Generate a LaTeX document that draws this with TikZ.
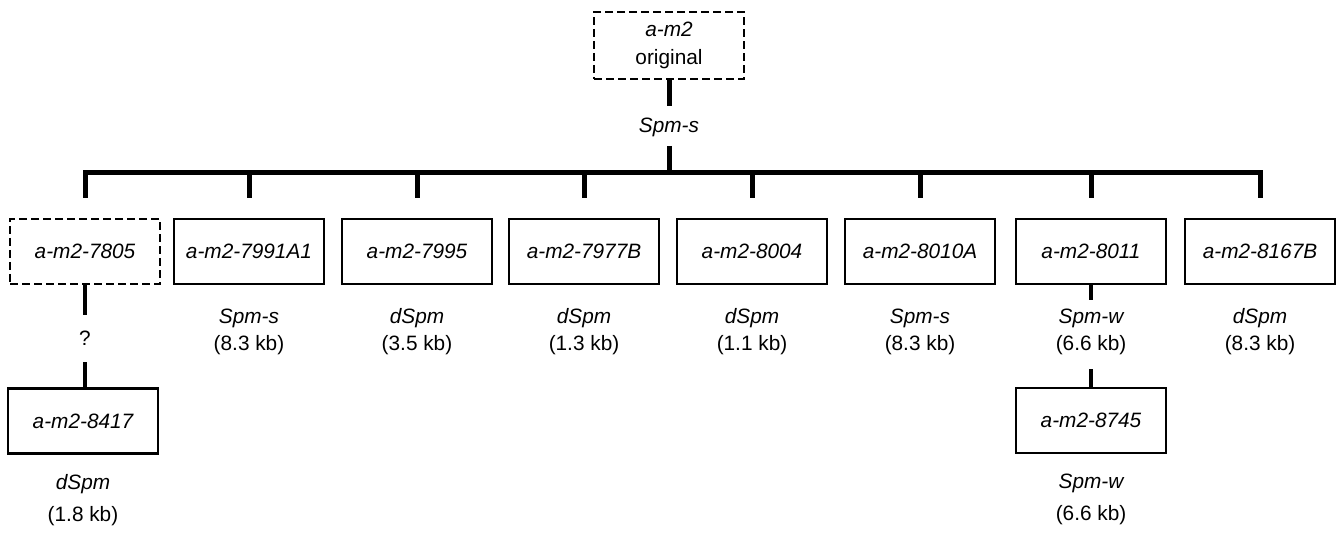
\documentclass[tikz,border=0pt]{standalone}
\usepackage{fontspec}
\setmainfont{Liberation Sans}
\begin{document}
\begin{tikzpicture}[x=1pt,y=-1pt,
  every node/.style={font=\fontsize{20.8}{28}\selectfont},
  box/.style={draw,line width=2.2pt,minimum width=150pt,minimum height=65pt,inner sep=0pt,font=\fontsize{20.8}{28}\selectfont\itshape},
  dbox/.style={box,dash pattern=on 8pt off 4pt,line width=2.6pt},
  lab/.style={inner sep=0pt},
  itlab/.style={inner sep=0pt,font=\fontsize{20.8}{28}\selectfont\itshape},
  conn/.style={line width=5pt},
  thin conn/.style={line width=4.5pt}]
\useasboundingbox (0,0) rectangle (1340,534);
% top
\node[dbox,minimum height=67pt,align=center] (top) at (669,45.5) {a-m2\\\upshape original};
\node[itlab] (spm) at (669,127) {Spm-s};
\coordinate (jn) at (669,173);
\draw[conn,shorten >=21pt] (top.south) -- (spm.center);
\draw[conn,shorten <=19pt] (spm.center) -- (jn);
% boxes
\node[dbox] (b1) at (85,251.5) {a-m2-7805};
\node[box] (b2) at (249,251.5) {a-m2-7991A1};
\node[box] (b3) at (417,251.5) {a-m2-7995};
\node[box] (b4) at (584,251.5) {a-m2-7977B};
\node[box] (b5) at (752,251.5) {a-m2-8004};
\node[box] (b6) at (920,251.5) {a-m2-8010A};
\node[box] (b7) at (1091,251.5) {a-m2-8011};
\node[box] (b8) at (1260,251.5) {a-m2-8167B};
% bar and drops
\coordinate (d1) at (85,173);
\draw[conn,line join=miter] ([yshift=20pt]b1.north) -- (d1) -- (b8.north |- d1) -- ([yshift=20pt]b8.north);
\foreach \i in {2,...,7}{
  \draw[conn] ([yshift=20pt]b\i.north) -- (b\i.north |- d1);
}
% labels
\foreach \i/\a/\b in {2/Spm-s/(8.3 kb),3/dSpm/(3.5 kb),4/dSpm/(1.3 kb),5/dSpm/(1.1 kb),6/Spm-s/(8.3 kb),7/Spm-w/(6.6 kb),8/dSpm/(8.3 kb)}{
  \node[itlab] (l\i a) at (b\i.center |- 0,318) {\a};
  \node[lab] (l\i b) at (b\i.center |- 0,345) {\b};
}
% branch under 7805
\node[lab] (q) at (85,338) {?};
\node[box] (b9) at (83,421) {a-m2-8417};
\draw[thin conn,shorten >=23pt] (b1.south) -- (q.center);
\draw[thin conn,shorten <=24pt] (q.center) -- (b9.north -| q.center);
\node[itlab] (l9a) at (83,484) {dSpm};
\node[lab] (l9b) at (83,516) {(1.8 kb)};
% branch under 8011
\node[box] (b10) at (1091,420.5) {a-m2-8745};
\draw[thin conn,shorten >=18pt] (b7.south) -- (l7a.center);
\draw[thin conn,shorten <=24pt] (l7b.center) -- (b10.north);
\node[itlab] (l10a) at (1091,483) {Spm-w};
\node[lab] (l10b) at (1091,515) {(6.6 kb)};
\end{tikzpicture}
\end{document}
